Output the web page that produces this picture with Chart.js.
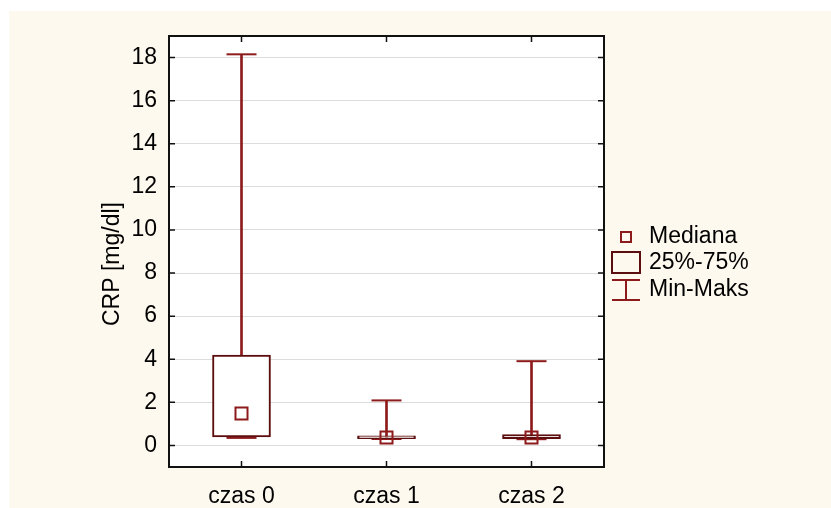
<!DOCTYPE html>
<html>
<head>
<meta charset="utf-8">
<script src="https://cdn.jsdelivr.net/npm/chart.js@4"></script>
<style>
  body { margin: 0; background: #fff; }
  canvas { display: block; }
</style>
</head>
<body>
<canvas id="myChart" width="831" height="508"></canvas>
<script>
const categories = ['czas 0', 'czas 1', 'czas 2'];
const minVals = [0.35, 0.30, 0.29];
const q1Vals = [0.40, 0.32, 0.32];
const medianVals = [1.48, 0.37, 0.37];
const q3Vals = [4.19, 0.45, 0.51];
const maxVals = [18.15, 2.09, 3.91];
const yTicks = [0, 2, 4, 6, 8, 10, 12, 14, 16, 18];
const yTitle = 'CRP [mg/dl]';

const whiskerColor = '#8e1b1b';
const boxColor = '#5c0e0e';
const font = { family: '"Liberation Sans", Arial, sans-serif', size: 23 };

// cream background + frame, inward ticks, axis title and the legend
const decor = {
  id: 'decor',
  beforeDraw(chart) {
    const ctx = chart.ctx;
    ctx.save();
    ctx.fillStyle = '#fef9ee';
    ctx.fillRect(9, 11, chart.width - 9, chart.height - 11);
    const a = chart.chartArea;
    ctx.fillStyle = '#fff';
    ctx.fillRect(a.left, a.top, a.right - a.left, a.bottom - a.top);
    ctx.restore();
  },
  afterDraw(chart) {
    const ctx = chart.ctx;
    const a = chart.chartArea;
    const x = chart.scales.x;
    const y = chart.scales.y;
    ctx.save();
    ctx.strokeStyle = '#111';
    ctx.lineWidth = 1.5;
    ctx.beginPath();
    y.ticks.forEach((t, i) => {
      const py = y.getPixelForTick(i);
      ctx.moveTo(a.left, py); ctx.lineTo(a.left + 6, py);
      ctx.moveTo(a.right, py); ctx.lineTo(a.right - 6, py);
    });
    x.ticks.forEach((t, i) => {
      const px = x.getPixelForTick(i);
      ctx.moveTo(px, a.bottom); ctx.lineTo(px, a.bottom - 6);
      ctx.moveTo(px, a.top); ctx.lineTo(px, a.top + 6);
    });
    ctx.stroke();
    ctx.lineWidth = 2;
    ctx.strokeRect(a.left, a.top, a.right - a.left, a.bottom - a.top);

    ctx.font = font.size + 'px ' + font.family;
    ctx.fillStyle = '#000';
    ctx.textBaseline = 'middle';

    // y axis title
    ctx.save();
    ctx.translate(113, 264);
    ctx.rotate(-Math.PI / 2);
    ctx.textAlign = 'center';
    ctx.fillText(yTitle, 0, 0);
    ctx.restore();

    // legend
    const lx = 626;
    ctx.textAlign = 'left';
    ctx.fillText('Mediana', 649, 237);
    ctx.fillText('25%-75%', 649, 263);
    ctx.fillText('Min-Maks', 649, 290);
    ctx.lineWidth = 2;
    ctx.strokeStyle = whiskerColor;
    ctx.strokeRect(lx - 5, 232, 10, 10);
    ctx.strokeStyle = boxColor;
    ctx.strokeRect(lx - 14, 252, 28, 21);
    ctx.strokeStyle = whiskerColor;
    ctx.beginPath();
    ctx.moveTo(lx - 14, 280); ctx.lineTo(lx + 14, 280);
    ctx.moveTo(lx - 14, 300); ctx.lineTo(lx + 14, 300);
    ctx.moveTo(lx, 280); ctx.lineTo(lx, 300);
    ctx.stroke();
    ctx.restore();
  }
};

new Chart(document.getElementById('myChart'), {
  type: 'bar',
  data: {
    labels: categories,
    datasets: [
      {
        type: 'line',
        label: 'Mediana',
        data: medianVals,
        showLine: false,
        pointStyle: 'rect',
        pointRadius: 8.5,
        pointBorderWidth: 2,
        pointBorderColor: whiskerColor,
        pointBackgroundColor: 'rgba(0,0,0,0)',
        order: 0,
      },
      {
        label: '25%-75%',
        data: categories.map((c, i) => [q1Vals[i], q3Vals[i]]),
        backgroundColor: '#fff',
        borderColor: boxColor,
        borderWidth: 2,
        borderSkipped: false,
        barThickness: 58,
        grouped: false,
        order: 1,
      },
      {
        label: 'Min-Maks',
        data: categories.map((c, i) => [minVals[i], maxVals[i]]),
        backgroundColor: whiskerColor,
        borderWidth: 0,
        barThickness: 2,
        grouped: false,
        order: 2,
      },
      {
        type: 'line',
        label: 'Maks',
        data: maxVals,
        showLine: false,
        pointStyle: 'line',
        pointRadius: 15,
        pointBorderWidth: 2,
        pointBorderColor: whiskerColor,
        order: 3,
      },
      {
        type: 'line',
        label: 'Min',
        data: minVals,
        showLine: false,
        pointStyle: 'line',
        pointRadius: 15,
        pointBorderWidth: 2,
        pointBorderColor: whiskerColor,
        order: 3,
      },
    ],
  },
  options: {
    responsive: false,
    animation: false,
    events: [],
    layout: { padding: { left: 0, top: 36, right: 227, bottom: 0 } },
    plugins: { legend: { display: false }, tooltip: { enabled: false } },
    scales: {
      x: {
        offset: true,
        grid: { display: false },
        border: { display: false },
        ticks: { color: '#000', font: font, padding: 8 },
        afterFit: (s) => { s.height = 41; },
      },
      y: {
        min: -1,
        max: 19,
        afterBuildTicks: (s) => { s.ticks = yTicks.map((v) => ({ value: v })); },
        grid: { color: '#dcdcdc', drawTicks: false },
        border: { display: false },
        ticks: { color: '#000', font: font, padding: 12 },
        afterFit: (s) => { s.width = 169; },
      },
    },
  },
  plugins: [decor],
});
</script>
</body>
</html>
